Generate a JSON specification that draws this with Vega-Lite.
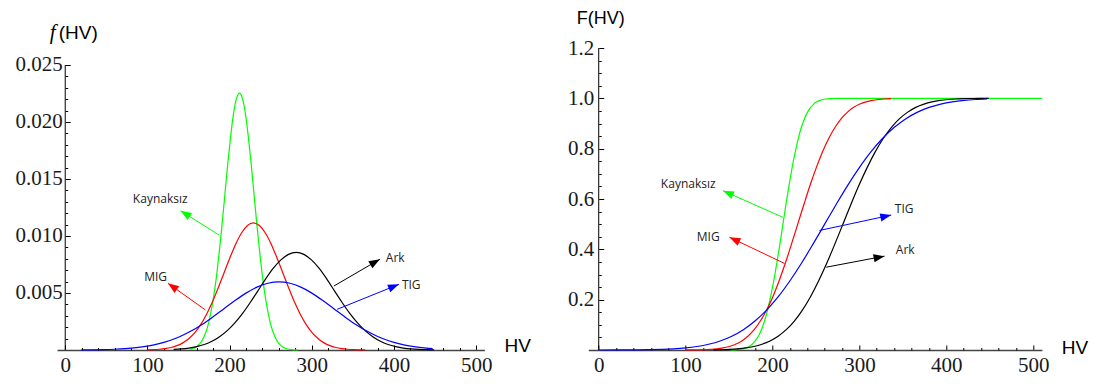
{
  "$schema": "https://vega.github.io/schema/vega-lite/v6.json",
  "padding": {"left": 14, "top": 9, "right": 5, "bottom": 2},
  "bounds": "flush",
  "spacing": 103.3,
  "config": {
    "view": {"stroke": null},
    "axis": {
      "grid": false,
      "labelFont": "Liberation Serif",
      "labelFontSize": 21,
      "labelColor": "#1a1a1a",
      "labelFlush": false,
      "labelOverlap": false,
      "tickColor": "#000",
      "tickWidth": 1,
      "domainColor": "#444",
      "domainWidth": 1.3,
      "titleFont": "Liberation Sans",
      "titleFontWeight": "normal",
      "titleFontSize": 19,
      "titleColor": "#000"
    }
  },
  "datasets": {
    "curves": [
      {"s": "Kaynaksız", "x": 151.8, "f": 0.0000678, "F": 0.00034},
      {"s": "Kaynaksız", "x": 155.4, "f": 0.000136, "F": 0.00069},
      {"s": "Kaynaksız", "x": 158.9, "f": 0.000249, "F": 0.00135},
      {"s": "Kaynaksız", "x": 162.4, "f": 0.000446, "F": 0.0026},
      {"s": "Kaynaksız", "x": 166.0, "f": 0.000768, "F": 0.0047},
      {"s": "Kaynaksız", "x": 169.5, "f": 0.001266, "F": 0.0082},
      {"s": "Kaynaksız", "x": 173.1, "f": 0.002006, "F": 0.0139},
      {"s": "Kaynaksız", "x": 176.6, "f": 0.003051, "F": 0.0228},
      {"s": "Kaynaksız", "x": 180.1, "f": 0.004463, "F": 0.0359},
      {"s": "Kaynaksız", "x": 183.7, "f": 0.006266, "F": 0.0548},
      {"s": "Kaynaksız", "x": 187.2, "f": 0.008458, "F": 0.0808},
      {"s": "Kaynaksız", "x": 190.8, "f": 0.010972, "F": 0.1151},
      {"s": "Kaynaksız", "x": 194.3, "f": 0.013672, "F": 0.1587},
      {"s": "Kaynaksız", "x": 197.8, "f": 0.016367, "F": 0.2119},
      {"s": "Kaynaksız", "x": 201.4, "f": 0.018825, "F": 0.2743},
      {"s": "Kaynaksız", "x": 204.9, "f": 0.020808, "F": 0.3446},
      {"s": "Kaynaksız", "x": 208.5, "f": 0.02209, "F": 0.4207},
      {"s": "Kaynaksız", "x": 212.0, "f": 0.022537, "F": 0.5},
      {"s": "Kaynaksız", "x": 215.5, "f": 0.02209, "F": 0.5793},
      {"s": "Kaynaksız", "x": 219.1, "f": 0.020808, "F": 0.6554},
      {"s": "Kaynaksız", "x": 222.6, "f": 0.018825, "F": 0.7257},
      {"s": "Kaynaksız", "x": 226.2, "f": 0.016367, "F": 0.7881},
      {"s": "Kaynaksız", "x": 229.7, "f": 0.013672, "F": 0.8413},
      {"s": "Kaynaksız", "x": 233.2, "f": 0.010972, "F": 0.8849},
      {"s": "Kaynaksız", "x": 236.8, "f": 0.008458, "F": 0.9192},
      {"s": "Kaynaksız", "x": 240.3, "f": 0.006266, "F": 0.9452},
      {"s": "Kaynaksız", "x": 243.9, "f": 0.004463, "F": 0.9641},
      {"s": "Kaynaksız", "x": 247.4, "f": 0.003051, "F": 0.9772},
      {"s": "Kaynaksız", "x": 250.9, "f": 0.002006, "F": 0.9861},
      {"s": "Kaynaksız", "x": 254.5, "f": 0.001266, "F": 0.9918},
      {"s": "Kaynaksız", "x": 258.0, "f": 0.000768, "F": 0.9953},
      {"s": "Kaynaksız", "x": 261.6, "f": 0.000446, "F": 0.9974},
      {"s": "Kaynaksız", "x": 265.1, "f": 0.000249, "F": 0.99865},
      {"s": "Kaynaksız", "x": 268.6, "f": 0.000136, "F": 0.99931},
      {"s": "Kaynaksız", "x": 272.2, "f": 0.0000678, "F": 0.99966},
      {"s": "Kaynaksız", "x": 275.7, "f": 0.0000339, "F": 0.99984},
      {"s": "Kaynaksız", "x": 279.3, "f": 0.0000169, "F": 0.99993},
      {"s": "Kaynaksız", "x": 282.8, "f": 0.0000057, "F": 0.99997},
      {"s": "Kaynaksız", "x": 300, "f": null, "F": 1},
      {"s": "Kaynaksız", "x": 400, "f": null, "F": 1},
      {"s": "Kaynaksız", "x": 510, "f": null, "F": 1},

      {"s": "MIG", "x": 100.1, "f": 0.0000168, "F": 0.00016},
      {"s": "MIG", "x": 107.3, "f": 0.0000335, "F": 0.00034},
      {"s": "MIG", "x": 114.4, "f": 0.000067, "F": 0.00069},
      {"s": "MIG", "x": 121.6, "f": 0.000123, "F": 0.00135},
      {"s": "MIG", "x": 128.8, "f": 0.000221, "F": 0.0026},
      {"s": "MIG", "x": 135.9, "f": 0.00038, "F": 0.0047},
      {"s": "MIG", "x": 143.1, "f": 0.000626, "F": 0.0082},
      {"s": "MIG", "x": 150.2, "f": 0.000992, "F": 0.0139},
      {"s": "MIG", "x": 157.4, "f": 0.001508, "F": 0.0228},
      {"s": "MIG", "x": 164.6, "f": 0.002207, "F": 0.0359},
      {"s": "MIG", "x": 171.7, "f": 0.003098, "F": 0.0548},
      {"s": "MIG", "x": 178.9, "f": 0.004182, "F": 0.0808},
      {"s": "MIG", "x": 186.0, "f": 0.005425, "F": 0.1151},
      {"s": "MIG", "x": 193.2, "f": 0.00676, "F": 0.1587},
      {"s": "MIG", "x": 200.4, "f": 0.008092, "F": 0.2119},
      {"s": "MIG", "x": 207.5, "f": 0.009307, "F": 0.2743},
      {"s": "MIG", "x": 214.7, "f": 0.010288, "F": 0.3446},
      {"s": "MIG", "x": 221.8, "f": 0.010922, "F": 0.4207},
      {"s": "MIG", "x": 229.0, "f": 0.011143, "F": 0.5},
      {"s": "MIG", "x": 236.2, "f": 0.010922, "F": 0.5793},
      {"s": "MIG", "x": 243.3, "f": 0.010288, "F": 0.6554},
      {"s": "MIG", "x": 250.5, "f": 0.009307, "F": 0.7257},
      {"s": "MIG", "x": 257.6, "f": 0.008092, "F": 0.7881},
      {"s": "MIG", "x": 264.8, "f": 0.00676, "F": 0.8413},
      {"s": "MIG", "x": 272.0, "f": 0.005425, "F": 0.8849},
      {"s": "MIG", "x": 279.1, "f": 0.004182, "F": 0.9192},
      {"s": "MIG", "x": 286.3, "f": 0.003098, "F": 0.9452},
      {"s": "MIG", "x": 293.4, "f": 0.002207, "F": 0.9641},
      {"s": "MIG", "x": 300.6, "f": 0.001508, "F": 0.9772},
      {"s": "MIG", "x": 307.8, "f": 0.000992, "F": 0.9861},
      {"s": "MIG", "x": 314.9, "f": 0.000626, "F": 0.9918},
      {"s": "MIG", "x": 322.1, "f": 0.00038, "F": 0.9953},
      {"s": "MIG", "x": 329.2, "f": 0.000221, "F": 0.9974},
      {"s": "MIG", "x": 336.4, "f": 0.000123, "F": 0.99865},
      {"s": "MIG", "x": 343.6, "f": 0.000067, "F": null},
      {"s": "MIG", "x": 350.7, "f": 0.0000335, "F": null},
      {"s": "MIG", "x": 357.9, "f": 0.0000168, "F": null},
      {"s": "MIG", "x": 365.0, "f": 0.0000084, "F": null},

      {"s": "Ark", "x": 131.9, "f": 0.0000515, "F": 0.00069},
      {"s": "Ark", "x": 141.2, "f": 0.0000944, "F": 0.00135},
      {"s": "Ark", "x": 150.5, "f": 0.00017, "F": 0.0026},
      {"s": "Ark", "x": 159.8, "f": 0.000292, "F": 0.0047},
      {"s": "Ark", "x": 169.2, "f": 0.000481, "F": 0.0082},
      {"s": "Ark", "x": 178.5, "f": 0.000762, "F": 0.0139},
      {"s": "Ark", "x": 187.8, "f": 0.001159, "F": 0.0228},
      {"s": "Ark", "x": 197.1, "f": 0.001695, "F": 0.0359},
      {"s": "Ark", "x": 206.4, "f": 0.00238, "F": 0.0548},
      {"s": "Ark", "x": 215.8, "f": 0.003212, "F": 0.0808},
      {"s": "Ark", "x": 225.1, "f": 0.004167, "F": 0.1151},
      {"s": "Ark", "x": 234.4, "f": 0.005193, "F": 0.1587},
      {"s": "Ark", "x": 243.7, "f": 0.006217, "F": 0.2119},
      {"s": "Ark", "x": 253.0, "f": 0.00715, "F": 0.2743},
      {"s": "Ark", "x": 262.4, "f": 0.007903, "F": 0.3446},
      {"s": "Ark", "x": 271.7, "f": 0.00839, "F": 0.4207},
      {"s": "Ark", "x": 281.0, "f": 0.00856, "F": 0.5},
      {"s": "Ark", "x": 290.3, "f": 0.00839, "F": 0.5793},
      {"s": "Ark", "x": 299.6, "f": 0.007903, "F": 0.6554},
      {"s": "Ark", "x": 309.0, "f": 0.00715, "F": 0.7257},
      {"s": "Ark", "x": 318.3, "f": 0.006217, "F": 0.7881},
      {"s": "Ark", "x": 327.6, "f": 0.005193, "F": 0.8413},
      {"s": "Ark", "x": 336.9, "f": 0.004167, "F": 0.8849},
      {"s": "Ark", "x": 346.2, "f": 0.003212, "F": 0.9192},
      {"s": "Ark", "x": 355.6, "f": 0.00238, "F": 0.9452},
      {"s": "Ark", "x": 364.9, "f": 0.001695, "F": 0.9641},
      {"s": "Ark", "x": 374.2, "f": 0.001159, "F": 0.9772},
      {"s": "Ark", "x": 383.5, "f": 0.000762, "F": 0.9861},
      {"s": "Ark", "x": 392.8, "f": 0.000481, "F": 0.9918},
      {"s": "Ark", "x": 402.2, "f": 0.000292, "F": 0.9953},
      {"s": "Ark", "x": 411.5, "f": 0.00017, "F": 0.9974},
      {"s": "Ark", "x": 420.8, "f": 0.0000944, "F": 0.99865},
      {"s": "Ark", "x": 430.1, "f": 0.0000515, "F": 0.99931},
      {"s": "Ark", "x": 439.4, "f": 0.0000258, "F": 0.99966},
      {"s": "Ark", "x": 448.8, "f": 0.0000129, "F": 0.99984},

      {"s": "TIG", "x": 0, "f": null, "F": 0.00005},
      {"s": "TIG", "x": 19.5, "f": 0.000009, "F": 0.00016},
      {"s": "TIG", "x": 32.9, "f": 0.000018, "F": 0.00034},
      {"s": "TIG", "x": 46.2, "f": 0.0000359, "F": 0.00069},
      {"s": "TIG", "x": 59.6, "f": 0.0000659, "F": 0.00135},
      {"s": "TIG", "x": 73.0, "f": 0.000118, "F": 0.0026},
      {"s": "TIG", "x": 86.3, "f": 0.000204, "F": 0.0047},
      {"s": "TIG", "x": 99.7, "f": 0.000335, "F": 0.0082},
      {"s": "TIG", "x": 113.0, "f": 0.000531, "F": 0.0139},
      {"s": "TIG", "x": 126.4, "f": 0.000808, "F": 0.0228},
      {"s": "TIG", "x": 139.8, "f": 0.001183, "F": 0.0359},
      {"s": "TIG", "x": 153.1, "f": 0.00166, "F": 0.0548},
      {"s": "TIG", "x": 166.5, "f": 0.002241, "F": 0.0808},
      {"s": "TIG", "x": 179.8, "f": 0.002907, "F": 0.1151},
      {"s": "TIG", "x": 193.2, "f": 0.003623, "F": 0.1587},
      {"s": "TIG", "x": 206.6, "f": 0.004337, "F": 0.2119},
      {"s": "TIG", "x": 219.9, "f": 0.004988, "F": 0.2743},
      {"s": "TIG", "x": 233.3, "f": 0.005513, "F": 0.3446},
      {"s": "TIG", "x": 246.6, "f": 0.005853, "F": 0.4207},
      {"s": "TIG", "x": 260.0, "f": 0.005972, "F": 0.5},
      {"s": "TIG", "x": 273.4, "f": 0.005853, "F": 0.5793},
      {"s": "TIG", "x": 286.7, "f": 0.005513, "F": 0.6554},
      {"s": "TIG", "x": 300.1, "f": 0.004988, "F": 0.7257},
      {"s": "TIG", "x": 313.4, "f": 0.004337, "F": 0.7881},
      {"s": "TIG", "x": 326.8, "f": 0.003623, "F": 0.8413},
      {"s": "TIG", "x": 340.2, "f": 0.002907, "F": 0.8849},
      {"s": "TIG", "x": 353.5, "f": 0.002241, "F": 0.9192},
      {"s": "TIG", "x": 366.9, "f": 0.00166, "F": 0.9452},
      {"s": "TIG", "x": 380.2, "f": 0.001183, "F": 0.9641},
      {"s": "TIG", "x": 393.6, "f": 0.000808, "F": 0.9772},
      {"s": "TIG", "x": 407.0, "f": 0.000531, "F": 0.9861},
      {"s": "TIG", "x": 420.3, "f": 0.000335, "F": 0.9918},
      {"s": "TIG", "x": 433.7, "f": 0.000204, "F": 0.9953},
      {"s": "TIG", "x": 447.0, "f": 0.000118, "F": 0.9974}
    ],
    "notes": [
      {"p": "f", "s": "Kaynaksız", "x1": 187, "y1": 0.01009, "x2": 140.3, "y2": 0.01222, "lx": 115.6, "ly": 0.01325},
      {"p": "f", "s": "MIG", "x1": 170.7, "y1": 0.00351, "x2": 125, "y2": 0.00585, "lx": 110, "ly": 0.0064},
      {"p": "f", "s": "Ark", "x1": 326.9, "y1": 0.00561, "x2": 382.8, "y2": 0.00796, "lx": 401.5, "ly": 0.00807},
      {"p": "f", "s": "TIG", "x1": 330.9, "y1": 0.00357, "x2": 406, "y2": 0.00576, "lx": 421, "ly": 0.00566},
      {"p": "F", "s": "Kaynaksız", "x1": 212, "y1": 0.527, "x2": 143, "y2": 0.633, "lx": 103, "ly": 0.66},
      {"p": "F", "s": "MIG", "x1": 213.8, "y1": 0.344, "x2": 150.5, "y2": 0.448, "lx": 126, "ly": 0.449},
      {"p": "F", "s": "TIG", "x1": 254, "y1": 0.475, "x2": 336.6, "y2": 0.536, "lx": 351.5, "ly": 0.56},
      {"p": "F", "s": "Ark", "x1": 261.8, "y1": 0.329, "x2": 328.9, "y2": 0.373, "lx": 352.7, "ly": 0.397}
    ]
  },
  "hconcat": [
    {
      "width": 427.4,
      "height": 302,
      "layer": [
        {
          "data": {"name": "curves"},
          "mark": {"type": "line", "strokeWidth": 1.2, "interpolate": "monotone"},
          "encoding": {
            "x": {
              "field": "x", "type": "quantitative",
              "scale": {"domain": [-10, 510], "nice": false, "zero": false},
              "axis": {
                "orient": "bottom", "values": [0, 100, 200, 300, 400, 500], "format": "d",
                "tickSize": -5, "labelPadding": 9,
                "title": "HV", "titleAngle": 0, "titleAlign": "left", "titleBaseline": "alphabetic",
                "titleX": 447, "titleY": 1.5
              }
            },
            "y": {
              "field": "f", "type": "quantitative",
              "scale": {"domain": [0, 0.026491], "nice": false, "zero": false},
              "axis": {
                "orient": "left", "offset": -8.2, "domain": false,
                "values": [0.005, 0.01, 0.015, 0.02, 0.025], "format": ".3f",
                "tickSize": -5, "labelPadding": 8,
                "title": "(HV)", "titleAngle": 0, "titleAlign": "left", "titleBaseline": "alphabetic",
                "titleX": -7, "titleY": -9.5
              }
            },
            "color": {
              "field": "s", "type": "nominal", "legend": null,
              "scale": {"domain": ["Kaynaksız", "MIG", "Ark", "TIG"], "range": ["#00ff00", "#ff0000", "#000000", "#0000ff"]}
            }
          }
        },
        {
          "data": {"values": [{}]},
          "mark": {"type": "rule", "color": "#000", "strokeWidth": 1},
          "encoding": {
            "x": {
              "datum": 0, "type": "quantitative",
              "axis": {
                "orient": "bottom", "domain": false, "labels": false, "tickSize": -2.5, "title": null,
                "values": [20, 40, 60, 80, 120, 140, 160, 180, 220, 240, 260, 280, 320, 340, 360, 380, 420, 440, 460, 480]
              }
            },
            "y": {
              "datum": 0, "type": "quantitative",
              "axis": {
                "orient": "left", "offset": -8.2, "domain": false, "labels": false, "tickSize": -2.5,
                "values": [0.001, 0.002, 0.003, 0.004, 0.006, 0.007, 0.008, 0.009, 0.011, 0.012, 0.013, 0.014, 0.016, 0.017, 0.018, 0.019, 0.021, 0.022, 0.023, 0.024],
                "title": "f", "titleFont": "Liberation Serif", "titleFontStyle": "italic", "titleFontSize": 21,
                "titleAngle": 0, "titleAlign": "left", "titleBaseline": "alphabetic",
                "titleX": -16, "titleY": -9.5
              }
            },
            "y2": {"datum": 0.025}
          }
        },
        {
          "data": {"name": "notes"},
          "transform": [{"filter": "datum.p == 'f'"}],
          "mark": {"type": "rule", "strokeWidth": 1},
          "encoding": {
            "x": {"field": "x1", "type": "quantitative", "axis": null},
            "y": {"field": "y1", "type": "quantitative", "axis": null},
            "x2": {"field": "x2"},
            "y2": {"field": "y2"},
            "color": {"field": "s", "type": "nominal", "legend": null}
          }
        },
        {
          "data": {"name": "notes"},
          "transform": [
            {"filter": "datum.p == 'f'"},
            {"calculate": "atan2(-(datum.y2 - datum.y1) * 11400, (datum.x2 - datum.x1) * 0.8219) * 180 / PI", "as": "heading"}
          ],
          "mark": {"type": "point", "shape": "M0,0L-2,-0.75L-2,0.75Z", "filled": true, "opacity": 1, "size": 120},
          "encoding": {
            "x": {"field": "x2", "type": "quantitative", "axis": null},
            "y": {"field": "y2", "type": "quantitative", "axis": null},
            "angle": {"field": "heading", "type": "quantitative", "scale": null},
            "color": {"field": "s", "type": "nominal", "legend": null}
          }
        },
        {
          "data": {"name": "notes"},
          "transform": [{"filter": "datum.p == 'f'"}],
          "mark": {"type": "text", "font": "Open Sans", "fontSize": 12, "color": "#222"},
          "encoding": {
            "x": {"field": "lx", "type": "quantitative", "axis": null},
            "y": {"field": "ly", "type": "quantitative", "axis": null},
            "text": {"field": "s"}
          }
        }
      ],
      "resolve": {"axis": {"x": "independent", "y": "independent"}}
    },
    {
      "width": 453.6,
      "height": 302,
      "layer": [
        {
          "data": {"name": "curves"},
          "mark": {"type": "line", "strokeWidth": 1.2, "interpolate": "monotone"},
          "encoding": {
            "x": {
              "field": "x", "type": "quantitative",
              "scale": {"domain": [-12, 510], "nice": false, "zero": false},
              "axis": {
                "orient": "bottom", "values": [0, 100, 200, 300, 400, 500], "format": "d",
                "tickSize": -5, "labelPadding": 9,
                "title": "HV", "titleAngle": 0, "titleAlign": "left", "titleBaseline": "alphabetic",
                "titleX": 473, "titleY": 3
              }
            },
            "y": {
              "field": "F", "type": "quantitative",
              "scale": {"domain": [0, 1.2], "nice": false, "zero": false},
              "axis": {
                "orient": "left", "offset": -10.43, "domain": false,
                "values": [0.2, 0.4, 0.6, 0.8, 1.0, 1.2], "format": ".1f",
                "tickSize": -5, "labelPadding": 10,
                "title": "F(HV)", "titleFontSize": 18, "titleAngle": 0, "titleAlign": "left", "titleBaseline": "alphabetic",
                "titleX": -22.5, "titleY": -25
              }
            },
            "color": {
              "field": "s", "type": "nominal", "legend": null,
              "scale": {"domain": ["Kaynaksız", "MIG", "Ark", "TIG"], "range": ["#00ff00", "#ff0000", "#000000", "#0000ff"]}
            }
          }
        },
        {
          "data": {"values": [{}]},
          "mark": {"type": "rule", "color": "#000", "strokeWidth": 1},
          "encoding": {
            "x": {
              "datum": 0, "type": "quantitative",
              "axis": {
                "orient": "bottom", "domain": false, "labels": false, "tickSize": -2.5, "title": null,
                "values": [20, 40, 60, 80, 120, 140, 160, 180, 220, 240, 260, 280, 320, 340, 360, 380, 420, 440, 460, 480]
              }
            },
            "y": {
              "datum": 0, "type": "quantitative",
              "axis": {
                "orient": "left", "offset": -10.43, "domain": false, "labels": false, "tickSize": -2.5, "title": null,
                "values": [0.05, 0.1, 0.15, 0.25, 0.3, 0.35, 0.45, 0.5, 0.55, 0.65, 0.7, 0.75, 0.85, 0.9, 0.95, 1.05, 1.1, 1.15]
              }
            },
            "y2": {"datum": 1.2}
          }
        },
        {
          "data": {"name": "notes"},
          "transform": [{"filter": "datum.p == 'F'"}],
          "mark": {"type": "rule", "strokeWidth": 1},
          "encoding": {
            "x": {"field": "x1", "type": "quantitative", "axis": null},
            "y": {"field": "y1", "type": "quantitative", "axis": null},
            "x2": {"field": "x2"},
            "y2": {"field": "y2"},
            "color": {"field": "s", "type": "nominal", "legend": null}
          }
        },
        {
          "data": {"name": "notes"},
          "transform": [
            {"filter": "datum.p == 'F'"},
            {"calculate": "atan2(-(datum.y2 - datum.y1) * 251.67, (datum.x2 - datum.x1) * 0.869) * 180 / PI", "as": "heading"}
          ],
          "mark": {"type": "point", "shape": "M0,0L-2,-0.75L-2,0.75Z", "filled": true, "opacity": 1, "size": 120},
          "encoding": {
            "x": {"field": "x2", "type": "quantitative", "axis": null},
            "y": {"field": "y2", "type": "quantitative", "axis": null},
            "angle": {"field": "heading", "type": "quantitative", "scale": null},
            "color": {"field": "s", "type": "nominal", "legend": null}
          }
        },
        {
          "data": {"name": "notes"},
          "transform": [{"filter": "datum.p == 'F'"}],
          "mark": {"type": "text", "font": "Open Sans", "fontSize": 12, "color": "#222"},
          "encoding": {
            "x": {"field": "lx", "type": "quantitative", "axis": null},
            "y": {"field": "ly", "type": "quantitative", "axis": null},
            "text": {"field": "s"}
          }
        }
      ],
      "resolve": {"axis": {"x": "independent", "y": "independent"}}
    }
  ]
}
